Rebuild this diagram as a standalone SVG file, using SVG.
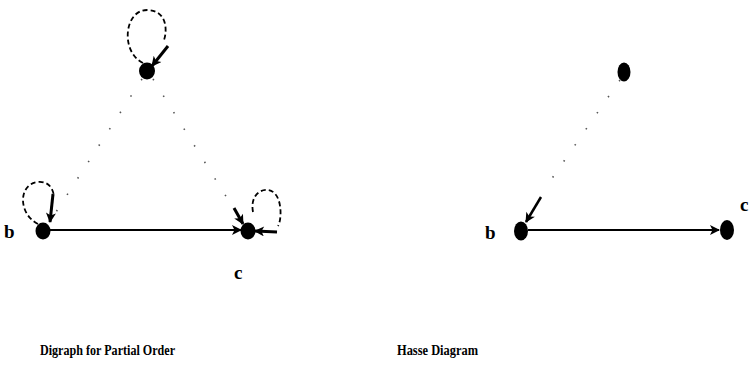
<svg xmlns="http://www.w3.org/2000/svg" width="751" height="373" viewBox="0 0 751 373">
<style>
.node{fill:#000}
.lbl{font-family:"Liberation Serif",serif;font-weight:bold;font-size:19px;fill:#000}
.cap{font-family:"Liberation Serif",serif;font-weight:bold;font-size:15px;fill:#000}
.solid{stroke:#000;stroke-width:2.2;fill:none}
.dot{stroke:#555;stroke-width:1.6;fill:none;stroke-dasharray:1.5 18}
.loop{stroke:#000;stroke-width:1.8;fill:none;stroke-dasharray:5 3}
</style>
<defs>
<marker id="ah2" viewBox="0 0 10 10" refX="9" refY="5" markerWidth="12" markerHeight="10" orient="auto" markerUnits="userSpaceOnUse">
<path d="M0,0 L10,5 L0,10 L2.5,5 z" fill="#000"/>
</marker>
</defs>
<g id="connectors">
<path class="loop" d="M143,63 C120,52 124,9 148,10 C168,11 167,32 164,40" />
<path class="solid" d="M168,46 L152,66" marker-end="url(#ah2)" style="stroke-width:3"/>
<path class="loop" d="M38,224 C18,214 18,184 38,182 C50,181 53,190 54,196" />
<path class="solid" d="M53,194 L50,222" marker-end="url(#ah2)" style="stroke-width:3"/>
<path class="loop" d="M253,212 C250,196 260,189 268,190 C283,192 282,220 278,226" />
<path class="solid" d="M277,232 L255,231" marker-end="url(#ah2)" style="stroke-width:3"/>
<path class="dot" d="M142,79 L56,212" />
<path class="dot" d="M153,79 L232,206" />
<path class="solid" d="M234,208 L243,224" marker-end="url(#ah2)" style="stroke-width:3"/>
<path class="solid" d="M50,230 L241,230" marker-end="url(#ah2)" />
<path class="dot" d="M620,80 L544,190" />
<path class="solid" d="M541,197 L526,222" marker-end="url(#ah2)" style="stroke-width:2.5"/>
<path class="solid" d="M528,230 L719,230" marker-end="url(#ah2)" />
</g>
<g id="node-a-left"><ellipse class="node" cx="147" cy="71" rx="8" ry="8.5"/></g>
<g id="node-b-left"><ellipse class="node" cx="43" cy="231" rx="7.5" ry="8.5"/><text class="lbl" x="4" y="238">b</text></g>
<g id="node-c-left"><ellipse class="node" cx="248" cy="231" rx="7.5" ry="8.5"/><text class="lbl" x="234" y="279">c</text></g>
<g id="node-a-right"><ellipse class="node" cx="624" cy="72" rx="6.5" ry="9.5"/></g>
<g id="node-b-right"><ellipse class="node" cx="521" cy="231" rx="7" ry="9.5"/><text class="lbl" x="485" y="239">b</text></g>
<g id="node-c-right"><ellipse class="node" cx="727" cy="230" rx="7" ry="10"/><text class="lbl" x="740" y="211">c</text></g>
<text class="cap" x="40" y="355" textLength="135" lengthAdjust="spacingAndGlyphs">Digraph for Partial Order</text>
<text class="cap" x="397" y="355" textLength="81" lengthAdjust="spacingAndGlyphs">Hasse Diagram</text>
</svg>
